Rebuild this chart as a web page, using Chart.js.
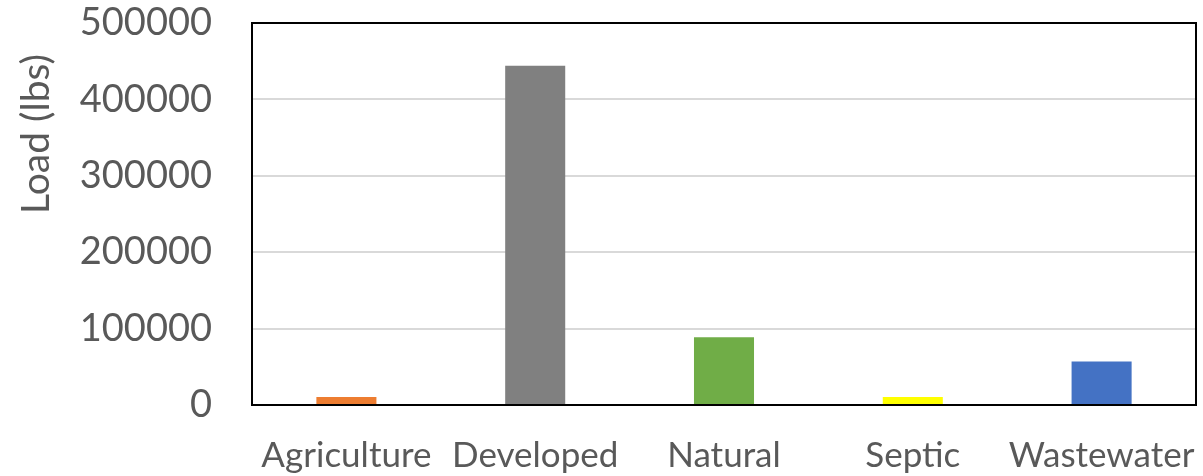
<!DOCTYPE html>
<html>
<head>
<meta charset="utf-8">
<script src="https://cdn.jsdelivr.net/npm/chart.js@4/dist/chart.umd.min.js"></script>
<style>
  html, body { margin: 0; padding: 0; background: #ffffff; }
  #wrap { width: 1203px; height: 476px; }
</style>
</head>
<body>
<div id="wrap"><canvas id="c" width="1203" height="476"></canvas></div>
<script>
// Load by source category
const categories = ['Agriculture', 'Developed', 'Natural', 'Septic', 'Wastewater'];
const loads = [10500, 444000, 88800, 10500, 56800];
const barColors = ['#ED7D31', '#808080', '#70AD47', '#FFFF00', '#4472C4'];
const yTicks = [0, 100000, 200000, 300000, 400000, 500000];
const yTitle = 'Load (lbs)';

const textColor = '#595959';

// Black frame around the plotting area plus the rotated axis title
const framePlugin = {
  id: 'frame',
  afterDraw(chart) {
    const { ctx, chartArea: a } = chart;
    ctx.save();
    ctx.strokeStyle = '#000000';
    ctx.lineWidth = 2;
    ctx.strokeRect(a.left, a.top, a.right - a.left, a.bottom - a.top);
    ctx.restore();

    ctx.save();
    ctx.fillStyle = textColor;
    ctx.font = '39px Lato';
    ctx.textAlign = 'center';
    ctx.textBaseline = 'middle';
    ctx.translate(36, 134);
    ctx.rotate(-Math.PI / 2);
    ctx.fillText(yTitle, 0, 0);
    ctx.restore();
  }
};

// Fixed axis sizes, without the extra label overhang padding
function pin(scale, size) {
  if (scale.isHorizontal()) scale.height = size; else scale.width = size;
  scale.paddingTop = 0;
  scale.paddingBottom = 0;
  scale.paddingLeft = 0;
  scale.paddingRight = 0;
}

new Chart(document.getElementById('c'), {
  type: 'bar',
  data: {
    labels: categories,
    datasets: [{
      data: loads,
      backgroundColor: barColors,
      borderWidth: 0,
      barPercentage: 0.318,
      categoryPercentage: 1.0
    }]
  },
  options: {
    responsive: false,
    animation: false,
    layout: { padding: { left: 0, top: 23, right: 7, bottom: 0 } },
    plugins: {
      legend: { display: false },
      tooltip: { enabled: false }
    },
    scales: {
      x: {
        grid: { display: false, drawTicks: false },
        border: { display: false },
        ticks: {
          color: textColor,
          font: { family: 'Lato', size: 35 },
          padding: 30,
          maxRotation: 0,
          autoSkip: false
        },
        afterFit(scale) { pin(scale, 71); }
      },
      y: {
        min: 0,
        max: 500000,
        afterBuildTicks(scale) { scale.ticks = yTicks.map(v => ({ value: v })); },
        grid: { color: '#d9d9d9', lineWidth: 2, drawTicks: false },
        border: { display: false },
        ticks: {
          color: textColor,
          font: { family: 'Lato', size: 38 },
          padding: 40,
          callback: v => String(v)
        },
        afterFit(scale) { pin(scale, 252); }
      }
    }
  },
  plugins: [framePlugin]
});
</script>
</body>
</html>
